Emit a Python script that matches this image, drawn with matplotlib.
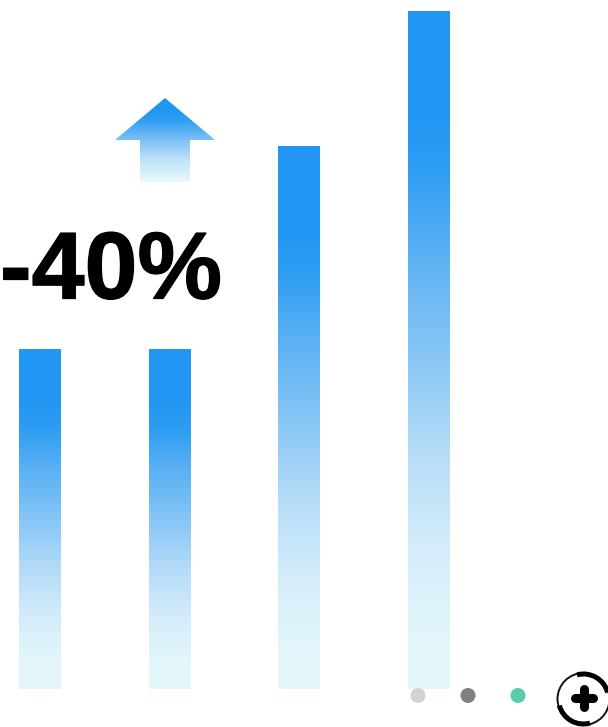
import numpy as np
import matplotlib
matplotlib.use('Agg')
from matplotlib import pyplot as plt
from matplotlib import patheffects
from matplotlib.colors import LinearSegmentedColormap
from matplotlib.patches import Polygon, Circle, Arc

W, H = 608, 727
BASE = 38   # bar baseline, px from the bottom

categories = [0, 1, 2, 3]
values = [340, 340, 543, 678]
label = '-40%'
dot_colors = ['#d2d2d2', '#808080', '#5ccbaa']
dot_x = [418, 468, 518]

cmap = LinearSegmentedColormap.from_list(
    'fade', [(0, '#e3f6f9'), (0.06, '#e4f7fb'), (0.205, '#d5edfa'), (0.35, '#b5dcf8'),
             (0.5, '#85c5f6'), (0.65, '#59b0f3'), (0.77, '#2d9df3'), (0.85, '#2196f3'), (1, '#2196f3')])
arrow_cmap = LinearSegmentedColormap.from_list(
    'fade2', [(0, '#e8f9fc'), (0.26, '#bfe3f8'), (0.5, '#7cc0f5'), (0.74, '#2e9df3'),
              (0.85, '#2196f3'), (1, '#2196f3')])
grad = np.linspace(1, 0, 256).reshape(-1, 1)

fig = plt.figure(figsize=(W / 100, H / 100), dpi=100)
ax = fig.add_axes([0, 0, 1, 1])
step = 129.67
ax.axis('off')

bars = ax.bar(categories, values, width=42 / step, color='none', linewidth=0)
for bar in bars:
    x0, w, h = bar.get_x(), bar.get_width(), bar.get_height()
    ax.imshow(grad, cmap=cmap, aspect='auto', vmin=0, vmax=1,
              extent=(x0, x0 + w, 0, h), zorder=2)

# arrow above the second bar
def px(x):
    return (x - 40) / step

def py(y):
    return H - BASE - y

arrow = Polygon([(px(165), py(98)), (px(215), py(140)), (px(190), py(140)), (px(190), py(182)),
                 (px(140), py(182)), (px(140), py(140)), (px(115), py(140))],
                closed=True, facecolor='none', edgecolor='none', transform=ax.transData)
ax.add_patch(arrow)
im = ax.imshow(grad, cmap=arrow_cmap, aspect='auto', vmin=0, vmax=1,
               extent=(px(115), px(215), py(182), py(98)), zorder=3)
im.set_clip_path(arrow)

ax.set_xlim(-40 / step, (W - 40) / step)
ax.set_ylim(-BASE, H - BASE)

ax.text(px(111), py(298.5), label, family='Liberation Sans', weight='bold', fontsize=68.5,
        ha='center', va='baseline', color='black', zorder=4,
        path_effects=[patheffects.withStroke(linewidth=0.9, foreground='black')])

# legend dots and the plus badge are drawn in pixel coordinates
ov = fig.add_axes([0, 0, 1, 1])
ov.set_xlim(0, W)
ov.set_ylim(H, 0)
ov.axis('off')
ov.patch.set_alpha(0)
for x, c in zip(dot_x, dot_colors):
    ov.add_patch(Circle((x, 695.5), 7.5, facecolor=c, edgecolor='none'))

cx, cy = 583.5, 699
ov.add_patch(Circle((cx, cy), 26, facecolor='white', edgecolor='#111111', linewidth=1.4))
ov.add_patch(Arc((cx, cy), 50, 50, theta1=-105, theta2=-15, color='black', linewidth=3.6))
ov.add_patch(Arc((cx, cy), 50, 50, theta1=75, theta2=165, color='black', linewidth=3.6))
ov.plot([cx, cx], [689, 707], color='black', linewidth=6.5, solid_capstyle='round')
ov.plot([cx - 9, cx + 9], [698, 698], color='black', linewidth=6.5, solid_capstyle='round')

fig.savefig('out.png', dpi=100, facecolor='white')
